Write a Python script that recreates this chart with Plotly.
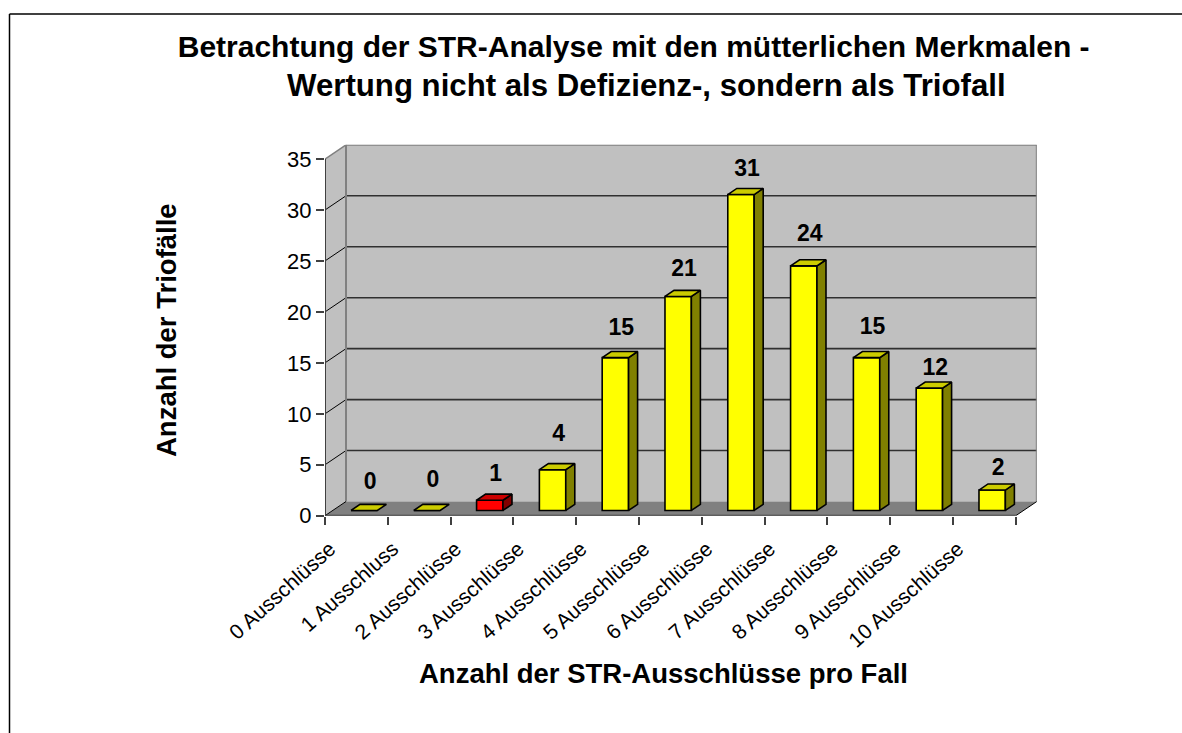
import plotly.graph_objects as go

CATEGORIES = ["0 Ausschlüsse", "1 Ausschluss", "2 Ausschlüsse", "3 Ausschlüsse",
              "4 Ausschlüsse", "5 Ausschlüsse", "6 Ausschlüsse", "7 Ausschlüsse",
              "8 Ausschlüsse", "9 Ausschlüsse", "10 Ausschlüsse"]
VALUES = [0, 0, 1, 4, 15, 21, 31, 24, 15, 12, 2]
Y_TICKS = [0, 5, 10, 15, 20, 25, 30, 35]
# Excel places the value labels unevenly, gap above each bar in pixels
LABEL_GAPS = [27, 29, 25, 34, 28, 26, 24, 31, 29, 19, 21]

W, H = 1182, 733
X0, Y0 = 325, 515.7     # front corner of the axes, in page pixels
CAT_PX = 62.8
VAL_PX = 10.19
DEPTH_X = 21 / CAT_PX   # depth of the 3D box in data units
DEPTH_Y = 14.2 / VAL_PX
X_MAX = len(CATEGORIES)
Y_MAX = Y_TICKS[-1]

BAR_W = 0.42
BAR_NEAR, BAR_FAR = 0.37, 0.80  # where bars sit in the depth of the box
BORDER = "#808080"
FONT = "Liberation Sans, Arial, sans-serif"

YELLOW = ("#ffff00", "#808000", "#cccc00")
RED = ("#ff0000", "#800000", "#cc0000")


def _px(x):
    return x / W


def _py(y):
    return 1 - y / H


def _poly(fig, xs, ys, color):
    fig.add_trace(go.Scatter(
        x=xs + xs[:1], y=ys + ys[:1], mode="lines", fill="toself", fillcolor=color,
        line=dict(color="black", width=1.6), hoverinfo="skip",
    ))


def _shape_line(x0, y0, x1, y1, color="black", width=1.4):
    return dict(type="line", layer="below", xref="x", yref="y", x0=x0, y0=y0, x1=x1, y1=y1,
                line=dict(color=color, width=width))


def _shape_poly(pts, color):
    path = "M " + " L ".join(f"{x} {y}" for x, y in pts) + " Z"
    return dict(type="path", layer="below", xref="x", yref="y", path=path,
                fillcolor=color, line=dict(width=0))


colors = [RED if v == 1 else YELLOW for v in VALUES]
near_x, near_y = BAR_NEAR * DEPTH_X, BAR_NEAR * DEPTH_Y
step_x = (BAR_FAR - BAR_NEAR) * DEPTH_X
step_y = (BAR_FAR - BAR_NEAR) * DEPTH_Y
centers = [i + 0.5 + near_x for i in range(len(VALUES))]

fig = go.Figure()
fig.add_trace(go.Bar(
    x=centers, y=VALUES, base=near_y, width=BAR_W,
    marker=dict(color=[c[0] for c in colors], line=dict(color="black", width=1.6)),
    hoverinfo="skip",
))

for cx, v, c in zip(centers, VALUES, colors):
    xl, xr = cx - BAR_W / 2, cx + BAR_W / 2
    yb, yt = near_y, near_y + v
    if v > 0:
        _poly(fig, [xr, xr + step_x, xr + step_x, xr],
              [yb, yb + step_y, yt + step_y, yt], c[1])
    _poly(fig, [xl, xl + step_x, xr + step_x, xr],
          [yt, yt + step_y, yt + step_y, yt], c[2])

fig.add_trace(go.Scatter(
    x=[cx + 0.095 for cx in centers],
    y=[near_y + v + g / VAL_PX for v, g in zip(VALUES, LABEL_GAPS)],
    text=[f"<b>{v}</b>" for v in VALUES], mode="text", textposition="middle center",
    textfont=dict(family=FONT, size=23, color="black"), hoverinfo="skip",
))

# walls and floor of the 3D box
shapes = [
    _shape_poly([(0, 0), (DEPTH_X, DEPTH_Y), (DEPTH_X, Y_MAX + DEPTH_Y), (0, Y_MAX)], "#c0c0c0"),
    _shape_poly([(DEPTH_X, DEPTH_Y), (X_MAX + DEPTH_X, DEPTH_Y),
                 (X_MAX + DEPTH_X, Y_MAX + DEPTH_Y), (DEPTH_X, Y_MAX + DEPTH_Y)], "#c0c0c0"),
    _shape_poly([(0, 0), (X_MAX, 0), (X_MAX + DEPTH_X, DEPTH_Y), (DEPTH_X, DEPTH_Y)], "#808080"),
]
for t in Y_TICKS[1:-1]:
    shapes.append(_shape_line(0, t, DEPTH_X, t + DEPTH_Y, width=1))
    shapes.append(_shape_line(DEPTH_X, t + DEPTH_Y, X_MAX + DEPTH_X, t + DEPTH_Y, "#303030", 1.6))
shapes += [
    _shape_line(DEPTH_X, DEPTH_Y, DEPTH_X, Y_MAX + DEPTH_Y, BORDER, 2),
    _shape_line(DEPTH_X, Y_MAX + DEPTH_Y, X_MAX + DEPTH_X, Y_MAX + DEPTH_Y, BORDER, 2),
    _shape_line(X_MAX + DEPTH_X, DEPTH_Y, X_MAX + DEPTH_X, Y_MAX + DEPTH_Y, BORDER, 2),
    _shape_line(0, Y_MAX, DEPTH_X, Y_MAX + DEPTH_Y, BORDER, 1.5),
    _shape_line(X_MAX, 0, X_MAX + DEPTH_X, DEPTH_Y, "black", 1),
    _shape_line(0, 0, DEPTH_X, DEPTH_Y, "black", 1),
    _shape_line(0, 0, 0, Y_MAX, "#404040", 2),
    _shape_line(0, 0, X_MAX, 0, "#404040", 2),
]
# outer chart frame, only the top and left edges are in view
for x0, y0, x1, y1 in [(_px(9.5), _py(14), 1, _py(14)), (_px(9.5), _py(14), _px(9.5), 0)]:
    shapes.append(dict(type="line", xref="paper", yref="paper", x0=x0, y0=y0, x1=x1, y1=y1,
                       line=dict(color="black", width=1.5)))

fig.update_layout(
    width=W, height=H, margin=dict(l=0, r=0, t=0, b=0, autoexpand=False),
    paper_bgcolor="white", plot_bgcolor="rgba(0,0,0,0)",
    showlegend=False, shapes=shapes,
    font=dict(family=FONT, color="black"),
    title=dict(
        text="<b>Betrachtung der STR-Analyse mit den mütterlichen Merkmalen -\u00a0\u00a0<br>"
             "<span style='font-size:31.2px'>\u00a0Wertung nicht als Defizienz-, sondern als Triofall</span></b>",
        x=_px(642), xanchor="center", y=_py(57), yanchor="middle",
        font=dict(family=FONT, size=30, color="black"),
    ),
    annotations=[
        dict(text="<b>Anzahl der STR-Ausschlüsse pro Fall</b>", xref="paper", yref="paper",
             x=_px(663), y=_py(691), showarrow=False, font=dict(size=27.5)),
        dict(text="<b>Anzahl der Triofälle</b>", xref="paper", yref="paper", textangle=-90,
             x=_px(166), xanchor="center", y=_py(330), showarrow=False, font=dict(size=27.5)),
    ],
)
fig.update_xaxes(
    automargin=False,
    domain=[_px(X0), _px(X0 + (X_MAX + DEPTH_X) * CAT_PX)],
    range=[0, X_MAX + DEPTH_X], showgrid=False, zeroline=False, showline=False,
    tickmode="array", tickvals=[i + 0.08 for i in range(X_MAX)], ticktext=CATEGORIES,
    tickangle=-42, ticks="", ticklabelstandoff=16, tickfont=dict(size=21, family=FONT),
    minor=dict(tickmode="array", tickvals=list(range(X_MAX + 1)), ticks="outside",
               ticklen=8, tickcolor="#404040", tickwidth=1.5, showgrid=False),
)
fig.update_yaxes(
    automargin=False,
    domain=[_py(Y0), _py(Y0 - (Y_MAX + DEPTH_Y) * VAL_PX)],
    range=[0, Y_MAX + DEPTH_Y], showgrid=False, zeroline=False, showline=False,
    tickmode="array", tickvals=Y_TICKS, ticks="outside", ticklen=8, tickcolor="#404040",
    tickwidth=1.5, tickfont=dict(size=22, family=FONT),
)

fig.write_html("out.html", config={"displayModeBar": False},
               post_script="document.body.style.margin = '0';")
